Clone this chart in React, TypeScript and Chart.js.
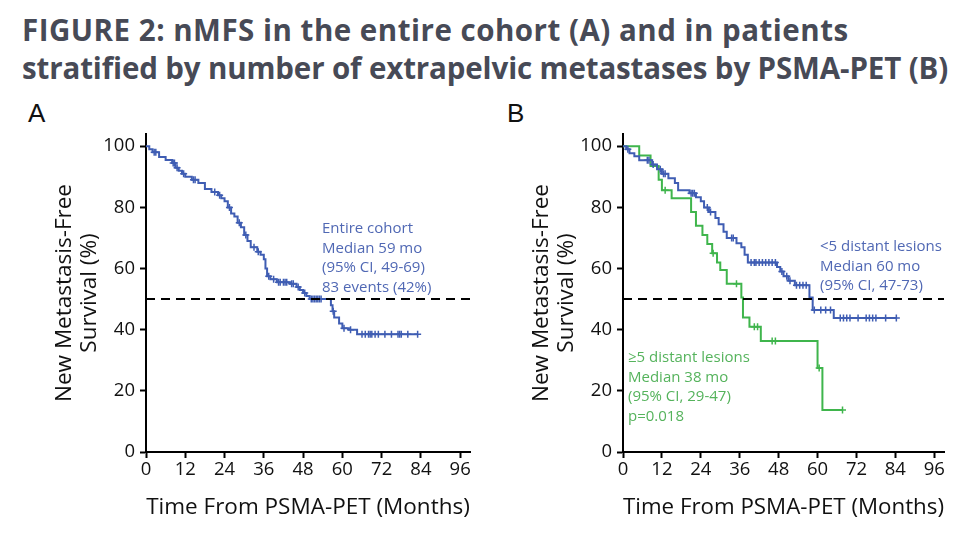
import React, { useEffect, useRef } from "react";
import { Chart, registerables } from "chart.js";
Chart.register(...registerables);

// ---------- Data ----------
const X_TICKS = [0, 12, 24, 36, 48, 60, 72, 84, 96];
const Y_TICKS = [0, 20, 40, 60, 80, 100];

// Panel A: entire cohort
const A_TIME = [0, 1, 2, 4, 6, 8, 9, 10, 11, 12, 14, 16, 18, 20, 22, 23, 24, 25, 26, 27, 28, 29, 30, 31, 32, 34, 35, 36, 36.5, 37, 38, 40, 44, 46, 47, 48, 49, 50, 56.5, 57, 57.5, 59, 60, 62, 64.5];
const A_SURV = [100, 99, 98, 96.5, 95.5, 94.5, 93, 92, 91, 90, 89, 88, 86, 85, 84, 83, 82, 80, 78, 77, 75, 73.5, 71, 69, 67, 65.5, 64.5, 63, 60, 57.5, 56.5, 55.5, 55, 54, 53, 52, 51, 50, 48, 46, 44, 42, 40.5, 40, 38.5];
const A_END = 83;
const A_CENSOR = [2.5, 3, 8.3, 8.7, 9.5, 11.5, 14.5, 15, 21, 22.5, 25.5, 28.5, 30.5, 33, 34.3, 37.5, 39, 40.5, 41, 42, 42.5, 43, 44.5, 45, 46.5, 48.5, 50.5, 51, 51.5, 52, 52.5, 53, 53.5, 57.2, 60.5, 62.5, 66, 67, 68, 68.5, 69, 70, 71, 73, 75, 77, 77.5, 78, 80, 83];

// Panel B: <5 distant lesions
const B_LOW_TIME = [0, 1, 2, 3.5, 5, 9, 10.5, 12, 14, 16, 17, 20.5, 22.5, 24, 25, 26.5, 28.5, 29.5, 31, 32, 35, 36.5, 37.5, 38.5, 47.5, 48.5, 49.5, 51, 53, 57.5, 58.5, 65];
const B_LOW_SURV = [100, 99, 97.7, 96.7, 95.4, 94, 92.5, 91, 89.5, 88, 85.6, 84.6, 83.3, 82, 80, 78.5, 76.5, 74.5, 72, 70, 68.3, 67, 64.5, 62, 60.5, 59, 57.5, 56, 54.5, 50.5, 46.4, 43.8];
const B_LOW_END = 84.3;
const B_LOW_CENSOR = [1.5, 7.5, 8, 9.3, 11.5, 12.5, 13, 21, 21.5, 22, 26, 27, 33.5, 34, 39.5, 40.5, 41, 42, 43, 44, 45, 46, 47, 49, 50.5, 51.5, 53.5, 54.5, 55.5, 56.5, 59, 61, 62.5, 64, 67, 68, 69, 70, 72.5, 75, 76, 77, 78, 81, 84.3];

// Panel B: >=5 distant lesions
const B_HIGH_TIME = [0, 5, 8.5, 11, 12, 15, 21, 22.5, 24.5, 26, 27.5, 29, 30, 32, 36.5, 37, 39, 42.5, 60, 61.5];
const B_HIGH_SURV = [100, 97, 93.5, 89, 85.6, 83, 78.5, 74, 71, 68, 65, 62, 59.5, 55, 50.5, 44, 41, 36.3, 27.5, 13.7];
const B_HIGH_END = 67.7;
const B_HIGH_CENSOR = [13, 27.8, 35, 40.5, 41.5, 46, 47, 60.5, 67.7];

const MEDIAN_LEVEL = 50;

const BLUE = "#3f5db3";
const GREEN = "#3fb54c";
const BLUE_TEXT = "#5068b4";
const GREEN_TEXT = "#55b35c";
const FONT = "'Open Sans', 'Noto Sans', sans-serif";

// ---------- helpers ----------
function stepAt(times: number[], surv: number[], t: number) {
  let v = surv[0];
  for (let i = 0; i < times.length; i++) if (times[i] <= t) v = surv[i];
  return v;
}
function curve(times: number[], surv: number[], end: number) {
  const pts = times.map((t, i) => ({ x: t, y: surv[i] }));
  pts.push({ x: end, y: surv[surv.length - 1] });
  return pts;
}
function censors(times: number[], surv: number[], cs: number[]) {
  return cs.map((t) => ({ x: t, y: stepAt(times, surv, t) }));
}
function kmSets(times: number[], surv: number[], end: number, cs: number[], color: string) {
  return [
    {
      type: "line",
      data: curve(times, surv, end),
      borderColor: color,
      borderWidth: 2,
      stepped: true,
      pointRadius: 0,
      fill: false,
    },
    {
      type: "scatter",
      data: censors(times, surv, cs),
      borderColor: color,
      backgroundColor: color,
      pointStyle: "cross",
      pointRadius: 3.5,
      borderWidth: 1.5,
    },
  ];
}
const dashed = {
  type: "line",
  data: [
    { x: 0, y: MEDIAN_LEVEL },
    { x: 99, y: MEDIAN_LEVEL },
  ],
  borderColor: "#000",
  borderWidth: 2,
  borderDash: [9, 6],
  pointRadius: 0,
};

type PanelProps = {
  left: number;
  datasets: any[];
  yWidth: number;
  titlePad: number;
  padRight: number;
};

function Panel({ left, datasets, yWidth, titlePad, padRight }: PanelProps) {
  const ref = useRef<HTMLCanvasElement>(null);
  useEffect(() => {
    if (!ref.current) return;
    const axisCommon = {
      border: { display: true, color: "#000", width: 2 },
      grid: { drawOnChartArea: false, drawTicks: true, tickLength: 6, tickWidth: 2, tickColor: "#000" },
    };
    const chart = new Chart(ref.current, {
      type: "line",
      data: { datasets: [dashed, ...datasets] as any },
      options: {
        animation: false,
        responsive: false,
        maintainAspectRatio: false,
        layout: { padding: { top: 39, right: padRight, left: 0, bottom: 0 } },
        plugins: { legend: { display: false }, tooltip: { enabled: false } },
        scales: {
          x: {
            type: "linear",
            min: 0,
            max: 99,
            afterBuildTicks: (s: any) => {
              s.ticks = X_TICKS.map((v) => ({ value: v }));
            },
            afterFit: (s: any) => {
              s.height = 87;
            },
            ...axisCommon,
            ticks: { font: { family: FONT, size: 18.5 }, color: "#111", padding: 1, maxRotation: 0, autoSkip: false },
            title: {
              display: true,
              text: "Time From PSMA-PET (Months)",
              font: { family: FONT, size: 22.5, lineHeight: 1.2 },
              color: "#111",
              padding: { top: 0, bottom: 18 },
            },
          },
          y: {
            type: "linear",
            min: 0,
            max: 104,
            afterBuildTicks: (s: any) => {
              s.ticks = Y_TICKS.map((v) => ({ value: v }));
            },
            afterFit: (s: any) => {
              s.width = yWidth;
            },
            ...axisCommon,
            ticks: { font: { family: FONT, size: 18.5 }, color: "#111", padding: 5 },
            title: {
              display: true,
              text: ["New Metastasis-Free", "Survival (%)"],
              font: { family: FONT, size: 22.5, lineHeight: 1.07 },
              color: "#111",
              padding: { top: titlePad, bottom: 0 },
            },
          },
        },
      } as any,
    });
    return () => chart.destroy();
  }, []);
  return (
    <canvas
      ref={ref}
      width={481}
      height={444}
      style={{ position: "absolute", left, top: 95, width: 481, height: 444 }}
    />
  );
}

const textStyle = (color: string): React.CSSProperties => ({
  position: "absolute",
  fontFamily: FONT,
  fontSize: 15,
  lineHeight: "19.7px",
  color,
  whiteSpace: "nowrap",
});

export default function App() {
  return (
    <div style={{ position: "fixed", left: 0, top: 0, width: 962, height: 539, background: "#fff", overflow: "hidden" }}>
      <div
        style={{
          position: "absolute",
          left: 22,
          top: 11,
          fontFamily: FONT,
          fontWeight: 700,
          fontSize: 29.5,
          lineHeight: "38px",
          color: "#474a56",
          whiteSpace: "nowrap",
        }}
      >
        <div style={{ letterSpacing: 0.5 }}>FIGURE 2: nMFS in the entire cohort (A) and in patients</div>
        <div style={{ letterSpacing: -0.13 }}>stratified by number of extrapelvic metastases by PSMA-PET (B)</div>
      </div>
      <div style={{ position: "absolute", left: 28, top: 98, fontFamily: "'Liberation Sans', sans-serif", fontSize: 26, color: "#111" }}>A</div>
      <div style={{ position: "absolute", left: 507, top: 98, fontFamily: "'Liberation Sans', sans-serif", fontSize: 26, color: "#111" }}>B</div>
      <Panel
        left={0}
        yWidth={146}
        titlePad={53}
        padRight={11}
        datasets={kmSets(A_TIME, A_SURV, A_END, A_CENSOR, BLUE)}
      />
      <Panel
        left={481}
        yWidth={142}
        titlePad={49}
        padRight={18}
        datasets={[
          ...kmSets(B_LOW_TIME, B_LOW_SURV, B_LOW_END, B_LOW_CENSOR, BLUE),
          ...kmSets(B_HIGH_TIME, B_HIGH_SURV, B_HIGH_END, B_HIGH_CENSOR, GREEN),
        ]}
      />
      <div style={{ ...textStyle(BLUE_TEXT), left: 322, top: 218 }}>
        Entire cohort
        <br />
        Median 59 mo
        <br />
        (95% CI, 49-69)
        <br />
        83 events (42%)
      </div>
      <div style={{ ...textStyle(BLUE_TEXT), left: 820, top: 236 }}>
        &lt;5 distant lesions
        <br />
        Median 60 mo
        <br />
        (95% CI, 47-73)
      </div>
      <div style={{ ...textStyle(GREEN_TEXT), left: 628, top: 347 }}>
        ≥5 distant lesions
        <br />
        Median 38 mo
        <br />
        (95% CI, 29-47)
        <br />
        p=0.018
      </div>
    </div>
  );
}
